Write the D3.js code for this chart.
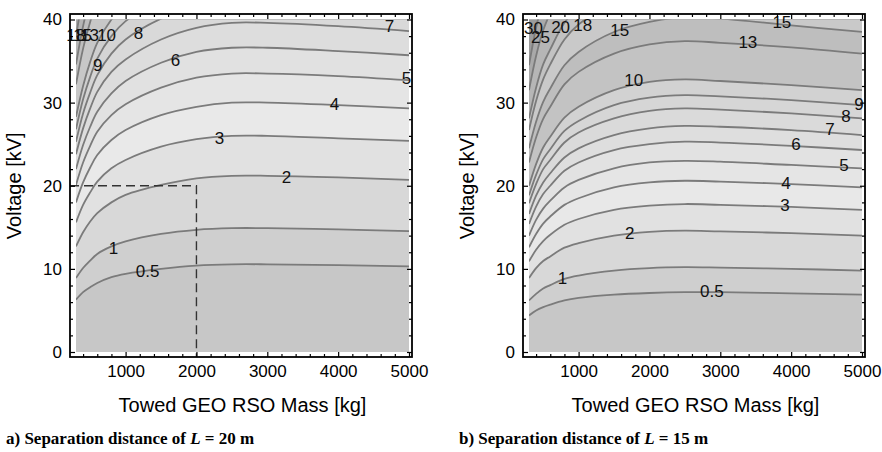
<!DOCTYPE html>
<html>
<head>
<meta charset="utf-8">
<script src="https://cdn.jsdelivr.net/npm/d3@7"></script>
<style>
body { margin: 0; background: #fff; }
text { font-family: "Liberation Sans", Arial, sans-serif; }
.caption { font-family: "Liberation Serif", "Times New Roman", serif; font-weight: bold; }
</style>
</head>
<body>
<div id="root"></div>
<script>
// towed mass samples [kg], shared by both panels
const masses = [300, 400, 500, 600, 800, 1000, 1500, 2000, 2500, 3000, 4000, 5000]

// panel a) L = 20 m : contour levels and voltage [kV] of each contour at the masses above
const levelsA = [0.5, 1, 2, 3, 4, 5, 6, 7, 8, 9, 10, 13, 15, 18]
const voltsA = [
    [6.3, 7.2, 7.8, 8.3, 9.0, 9.4, 10.0, 10.4, 10.55, 10.55, 10.45, 10.3],
    [8.9, 10.1, 11.0, 11.8, 12.7, 13.3, 14.2, 14.7, 14.9, 14.9, 14.75, 14.55],
    [12.7, 14.4, 15.7, 16.7, 18.0, 18.9, 20.1, 20.9, 21.2, 21.2, 21.0, 20.7],
    [15.6, 17.7, 19.2, 20.5, 22.1, 23.1, 24.7, 25.6, 26.0, 26.0, 25.7, 25.4],
    [18.0, 20.4, 22.2, 23.7, 25.5, 26.7, 28.5, 29.5, 30.0, 30.0, 29.7, 29.3],
    [20.1, 22.8, 24.8, 26.5, 28.5, 29.8, 31.8, 33.0, 33.5, 33.5, 33.2, 32.7],
    [22.0, 24.9, 27.1, 28.9, 31.1, 32.6, 34.8, 36.1, 36.6, 36.6, 36.2, 35.7],
    [23.8, 26.9, 29.3, 31.3, 33.7, 35.2, 37.6, 39.0, 39.6, 39.6, 39.2, 38.6],
    [25.3, 28.7, 31.2, 33.3, 35.9, 37.6, 40.1, 41.6, 42.2, 42.2, 41.8, 41.1],
    [26.8, 30.4, 33.1, 35.3, 38.0, 39.8, 42.5, 44.0, 44.7, 44.7, 44.3, 43.6],
    [28.3, 32.0, 34.9, 37.2, 40.0, 41.9, 44.7, 46.4, 47.1, 47.1, 46.6, 45.9],
    [32.2, 36.5, 39.7, 42.4, 45.6, 47.8, 51.0, 52.9, 53.7, 53.7, 53.2, 52.4],
    [34.6, 39.2, 42.7, 45.6, 49.0, 51.4, 54.8, 56.8, 57.7, 57.7, 57.1, 56.3],
    [37.9, 43.0, 46.8, 49.9, 53.7, 56.2, 60.0, 62.3, 63.2, 63.2, 62.6, 61.6]
]
// fill of each band, from below the lowest contour up
const bandsA = ["#c7c7c7", "#cfcfcf", "#d8d8d8", "#e1e1e1", "#e9e9e9", "#e5e5e5", "#e1e1e1",
    "#dddddd", "#d9d9d9", "#d4d4d4", "#cfcfcf", "#c7c7c7", "#bebebe", "#b5b5b5", "#acacac"]
// contour labels: [text, mass, voltage]
const labelsA = [
    ["0.5", 1310, 9.8], ["1", 830, 12.5], ["2", 3270, 21.1], ["3", 2326, 25.8],
    ["4", 3948, 29.9], ["5", 4963, 33.0], ["6", 1705, 35.2], ["7", 4724, 39.2],
    ["8", 1183, 38.4], ["9", 605, 34.6], ["10", 732, 38.2], ["13", 492, 38.2],
    ["15", 393, 38.2], ["18", 295, 38.2]
]
// the operating point marked with dashes in panel a)
const guideA = {mass: 2000, volt: 20}

// panel b) L = 15 m
const levelsB = [0.5, 1, 2, 3, 4, 5, 6, 7, 8, 9, 10, 13, 15, 18, 20, 25, 30]
const voltsB = [
    [4.4, 5.0, 5.4, 5.7, 6.2, 6.5, 6.9, 7.1, 7.2, 7.2, 7.05, 6.9],
    [6.2, 7.0, 7.65, 8.05, 8.8, 9.2, 9.8, 10.1, 10.2, 10.15, 10.0, 9.8],
    [8.9, 10.1, 10.95, 11.5, 12.55, 13.1, 14.0, 14.45, 14.6, 14.5, 14.3, 14.0],
    [10.9, 12.3, 13.35, 14.1, 15.3, 16.0, 17.1, 17.6, 17.8, 17.7, 17.45, 17.1],
    [12.6, 14.2, 15.45, 16.3, 17.7, 18.5, 19.8, 20.4, 20.6, 20.5, 20.2, 19.8],
    [14.0, 15.9, 17.25, 18.2, 19.8, 20.7, 22.1, 22.8, 23.0, 22.9, 22.5, 22.1],
    [15.4, 17.5, 19.0, 20.0, 21.8, 22.8, 24.3, 25.0, 25.3, 25.2, 24.8, 24.3],
    [16.6, 18.8, 20.4, 21.5, 23.4, 24.5, 26.1, 26.9, 27.2, 27.1, 26.7, 26.1],
    [17.9, 20.2, 22.0, 23.1, 25.2, 26.4, 28.1, 29.0, 29.3, 29.15, 28.7, 28.1],
    [18.85, 21.3, 23.2, 24.4, 26.6, 27.8, 29.7, 30.6, 30.9, 30.75, 30.3, 29.7],
    [20.0, 22.6, 24.6, 25.9, 28.2, 29.5, 31.5, 32.5, 32.8, 32.6, 32.1, 31.5],
    [22.8, 25.8, 28.05, 29.5, 32.2, 33.7, 35.9, 37.0, 37.4, 37.2, 36.65, 35.9],
    [24.5, 27.7, 30.1, 31.7, 34.5, 36.1, 38.5, 39.7, 40.3, 40.1, 39.3, 38.5],
    [26.7, 30.2, 32.8, 34.6, 37.6, 39.4, 42.0, 43.3, 43.75, 43.5, 42.9, 42.0],
    [28.1, 31.8, 34.6, 36.4, 39.6, 41.5, 44.3, 45.6, 46.1, 45.9, 45.2, 44.3],
    [31.5, 35.6, 38.7, 40.8, 44.4, 46.4, 49.5, 51.1, 51.6, 51.3, 50.6, 49.5],
    [34.5, 39.0, 42.4, 44.6, 48.6, 50.9, 54.2, 55.9, 56.5, 56.2, 55.4, 54.2]
]
const bandsB = ["#c7c7c7", "#cfcfcf", "#d8d8d8", "#e1e1e1", "#e8e8e8", "#e5e5e5", "#e2e2e2",
    "#dedede", "#dadada", "#d6d6d6", "#d2d2d2", "#c3c3c3", "#bebebe", "#c9c9c9", "#c2c2c2",
    "#b6b6b6", "#a9a9a9", "#9c9c9c"]
const labelsB = [
    ["0.5", 2880, 7.3], ["1", 774, 8.9], ["2", 1721, 14.3], ["3", 3912, 17.7],
    ["4", 3926, 20.4], ["5", 4746, 22.5], ["6", 4067, 25.0], ["7", 4548, 26.9],
    ["8", 4774, 28.4], ["9", 4958, 29.8], ["10", 1777, 32.7], ["13", 3389, 37.3],
    ["15", 1580, 38.7], ["15", 3869, 39.7], ["18", 1057, 39.3], ["20", 746, 39.1],
    ["25", 463, 37.9], ["30", 364, 39.0]
]

// axes
const massTicks = [1000, 2000, 3000, 4000, 5000]
const voltTicks = [0, 10, 20, 30, 40]
const massMinor = d3.range(400, 5001, 200).filter(d => d % 1000 != 0)
const voltMinor = d3.range(2, 40, 2).filter(d => d % 10 != 0)

const W = 882, H = 452
const svg = d3.select("#root").append("svg").attr("width", W).attr("height", H)

function panel(o) {
    let x = d3.scaleLinear().domain([300, 5000]).range([o.left, o.left + 333])
    let y = d3.scaleLinear().domain([0, 40]).range([352, 19.5])
    let frame = {x0: x.range()[0] - 6, x1: x.range()[1] + 3, y0: 14, y1: 357}
    let g = svg.append("g")

    //shaded bands, clipped to the data range
    g.append("clipPath").attr("id", "clip" + o.id).append("rect")
        .attr("x", x(300)).attr("y", y(40))
        .attr("width", x(5000) - x(300)).attr("height", y(0) - y(40))
    let plot = g.append("g").attr("clip-path", "url(#clip" + o.id + ")")
    plot.append("rect")
        .attr("x", x(300)).attr("y", y(40))
        .attr("width", x(5000) - x(300)).attr("height", y(0) - y(40))
        .attr("fill", o.bands[0])
    let curve = d3.curveCatmullRom.alpha(0.5)
    let area = d3.area()
        .x((d, i) => x(masses[i]))
        .y0(y(40))
        .y1(d => y(d))
        .curve(curve)
    o.volts.forEach((vs, k) => {
        plot.append("path").attr("d", area(vs)).attr("fill", o.bands[k + 1])
    })
    let line = d3.line()
        .x((d, i) => x(masses[i]))
        .y(d => y(d))
        .curve(curve)
    o.volts.forEach(vs => {
        plot.append("path").attr("d", line(vs))
            .attr("fill", "none")
            .attr("stroke", "#7b7b7b")
            .attr("stroke-width", 1.8)
    })

    //dashed guide
    if (o.guide) {
        g.append("path")
            .attr("d", d3.line()([[frame.x0, y(o.guide.volt)], [x(o.guide.mass), y(o.guide.volt)], [x(o.guide.mass), frame.y1]]))
            .attr("fill", "none")
            .attr("stroke", "#333")
            .attr("stroke-width", 1.4)
            .attr("stroke-dasharray", "9,5")
    }

    //contour labels
    g.selectAll(".clabel").data(o.labels).join("text")
        .attr("class", "clabel")
        .attr("x", d => x(d[1]))
        .attr("y", d => y(d[2]))
        .attr("dy", "0.36em")
        .attr("text-anchor", "middle")
        .attr("font-size", 17)
        .attr("fill", "#111")
        .text(d => d[0])

    //frame with inward ticks on all four sides
    let axes = [
        [d3.axisBottom(x).tickValues(massTicks), `translate(0,${frame.y1})`, true],
        [d3.axisBottom(x).tickValues(massMinor), `translate(0,${frame.y1})`, false],
        [d3.axisTop(x).tickValues(massTicks), `translate(0,${frame.y0})`, false],
        [d3.axisTop(x).tickValues(massMinor), `translate(0,${frame.y0})`, false],
        [d3.axisLeft(y).tickValues(voltTicks), `translate(${frame.x0},0)`, true],
        [d3.axisLeft(y).tickValues(voltMinor), `translate(${frame.x0},0)`, false],
        [d3.axisRight(y).tickValues(voltTicks), `translate(${frame.x1},0)`, false],
        [d3.axisRight(y).tickValues(voltMinor), `translate(${frame.x1},0)`, false]
    ]
    axes.forEach(([ax, tr, labelled], i) => {
        let major = i % 2 == 0
        ax.tickSizeInner(major ? -5 : -3).tickSizeOuter(0).tickPadding(8)
        ax.tickFormat(labelled ? d3.format("d") : "")
        let a = g.append("g").attr("transform", tr).call(ax)
        a.select(".domain").remove()
        a.selectAll(".tick line").attr("stroke", "#000").attr("stroke-width", 1.2)
        a.selectAll(".tick text")
            .attr("font-size", 17)
            .attr("font-family", "Liberation Sans, Arial, sans-serif")
            .attr("fill", "#000")
    })
    g.append("rect")
        .attr("x", frame.x0).attr("y", frame.y0)
        .attr("width", frame.x1 - frame.x0).attr("height", frame.y1 - frame.y0)
        .attr("fill", "none")
        .attr("stroke", "#000")
        .attr("stroke-width", 1.8)

    //axis titles
    g.append("text")
        .attr("x", (x.range()[0] + x.range()[1]) / 2)
        .attr("y", 412)
        .attr("text-anchor", "middle")
        .attr("font-size", 20)
        .text("Towed GEO RSO Mass [kg]")
    g.append("text")
        .attr("transform", `translate(${o.left - 55},${(y(0) + y(40)) / 2}) rotate(-90)`)
        .attr("text-anchor", "middle")
        .attr("font-size", 20)
        .text("Voltage [kV]")

    //caption
    let cap = g.append("text")
        .attr("class", "caption")
        .attr("x", o.left - 70)
        .attr("y", 444)
        .attr("font-size", 17)
    cap.append("tspan").text(o.tag + ") Separation distance of ")
    cap.append("tspan").attr("font-style", "italic").text("L")
    cap.append("tspan").text(" = " + o.dist + " m")
}

panel({id: "a", left: 76, volts: voltsA, bands: bandsA, labels: labelsA, guide: guideA, tag: "a", dist: 20})
panel({id: "b", left: 529, volts: voltsB, bands: bandsB, labels: labelsB, guide: null, tag: "b", dist: 15})
</script>
</body>
</html>
